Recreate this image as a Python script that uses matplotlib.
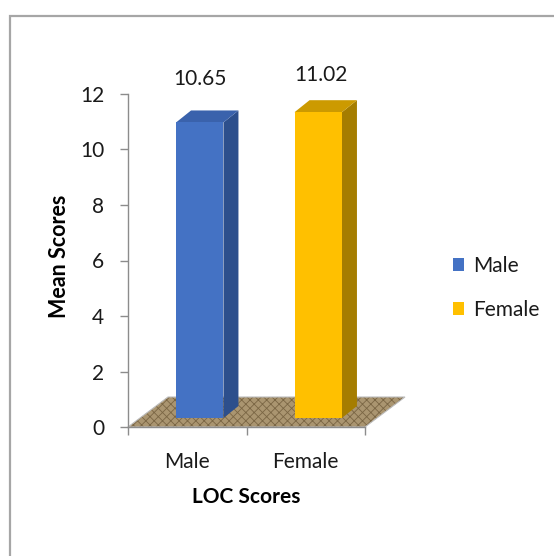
import numpy as np
import matplotlib
matplotlib.use("Agg")
import matplotlib.pyplot as plt
from matplotlib.patches import Polygon, Rectangle, Patch

plt.rcParams['font.family'] = ['Lato', 'DejaVu Sans']
plt.rcParams['hatch.linewidth'] = 0.6

categories = ["Male", "Female"]
mean_scores = [10.65, 11.02]
front_colors = ["#4472C4", "#FFC000"]
top_colors = ["#3A62AC", "#CC9A00"]
side_colors = ["#2D4F8C", "#A57D00"]
y_ticks = [0, 2, 4, 6, 8, 10, 12]

W, H = 554, 556
FS = 15
fig = plt.figure(figsize=(W / 100, H / 100), dpi=100)
fig.patch.set_facecolor("white")

# outer chart-area frame (runs off the right and bottom edges)
fig.add_artist(Rectangle((9.5 / W, -0.05), 1.2, (H - 15.5) / H + 0.05,
                         transform=fig.transFigure, fill=False,
                         edgecolor="#A6A6A6", linewidth=1.6))

ax = fig.add_axes([128 / W, (H - 427) / H, 237 / W, 333 / H])
ax.set_xlim(-0.5, 1.5)
ax.set_ylim(0, 12)
ax.patch.set_alpha(0)

x = np.arange(len(categories))
bar_w = 0.4
label_offsets = [(0.0, 31), (2.0, 26.5)]  # points, from the front top edge


def shift(px, py, dxp, dyp):
    """Move a data point by a pixel offset and return data coordinates."""
    p = ax.transData.transform((px, py)) + np.array([dxp, dyp])
    return ax.transData.inverted().transform(p)


# floor of the 3-D plot
floor_dx, floor_dy = 40, 30
f0 = shift(-0.5, 0, 0, 0)
f1 = shift(1.5, 0, 0, 0)
f2 = shift(1.5, 0, floor_dx, floor_dy)
f3 = shift(-0.5, 0, floor_dx, floor_dy)
floor = Polygon([f0, f1, f2, f3], closed=True, facecolor="#AA9570",
                edgecolor="#7A6644", hatch="xxxx", linewidth=0.0,
                clip_on=False, zorder=1)
ax.add_patch(floor)
ax.add_patch(Polygon([f0, f1, f2, f3], closed=True, fill=False,
                     edgecolor="#BDBDBD", linewidth=0.8, clip_on=False, zorder=1.1))

# columns
bar_dx, bar_dy = 15, 12
lift_dx = (floor_dx - bar_dx) / 2
lift_dy = (floor_dy - bar_dy) / 2
for xi, val, fc, tc, sc, off in zip(x, mean_scores, front_colors, top_colors,
                                    side_colors, label_offsets):
    bl = shift(xi - bar_w / 2, 0, lift_dx, lift_dy)
    br = shift(xi + bar_w / 2, 0, lift_dx, lift_dy)
    tl = shift(xi - bar_w / 2, val, lift_dx, lift_dy)
    tr = shift(xi + bar_w / 2, val, lift_dx, lift_dy)
    tlb = shift(xi - bar_w / 2, val, lift_dx + bar_dx, lift_dy + bar_dy)
    trb = shift(xi + bar_w / 2, val, lift_dx + bar_dx, lift_dy + bar_dy)
    brb = shift(xi + bar_w / 2, 0, lift_dx + bar_dx, lift_dy + bar_dy)
    ax.add_patch(Polygon([br, brb, trb, tr], closed=True, facecolor=sc,
                         edgecolor="none", clip_on=False, zorder=3))
    ax.add_patch(Polygon([tl, tr, trb, tlb], closed=True, facecolor=tc,
                         edgecolor="none", clip_on=False, zorder=3))
    ax.add_patch(Polygon([bl, br, tr, tl], closed=True, facecolor=fc,
                         edgecolor="none", clip_on=False, zorder=4))
    cx = (bl[0] + br[0]) / 2
    ax.annotate(f"{val:.2f}", (cx, tl[1]), xytext=off, textcoords="offset points",
                ha="center", va="center", fontsize=FS, color="#1a1a1a", zorder=5)

# axes styling
for s in ["top", "right"]:
    ax.spines[s].set_visible(False)
for s in ["left", "bottom"]:
    ax.spines[s].set_color("#8C8C8C")
    ax.spines[s].set_linewidth(1.0)
ax.set_yticks(y_ticks)
ax.set_xticks([-0.5, 0.5, 1.5], minor=False)
ax.set_xticklabels([])
ax.set_xticks(x, minor=True)
ax.set_xticklabels(categories, minor=True)
ax.tick_params(axis="x", which="major", length=6, color="#8C8C8C", width=1.0)
ax.tick_params(axis="x", which="minor", length=0, pad=18, labelsize=FS, labelcolor="#1a1a1a")
ax.tick_params(axis="y", length=6, color="#8C8C8C", width=1.0, pad=11,
               labelsize=FS, labelcolor="#1a1a1a")

fig.text(60 / W, 1 - 256 / H, "Mean Scores", rotation=90, ha="center", va="center",
         fontsize=FS + 0.5, fontweight="bold", color="#000000")
fig.text(246 / W, 1 - 497 / H, "LOC Scores", ha="center", va="center",
         fontsize=FS, fontweight="bold", color="#000000")

handles = [Patch(facecolor=c, edgecolor="none") for c in front_colors]
fig.legend(handles, categories, loc="center left", bbox_to_anchor=(434 / W, 1 - 288 / H),
           frameon=False, fontsize=FS, handlelength=0.55, handleheight=0.55,
           handletextpad=0.45, labelspacing=1.15, labelcolor="#1a1a1a")

fig.savefig("out.png", dpi=100, facecolor="white")
